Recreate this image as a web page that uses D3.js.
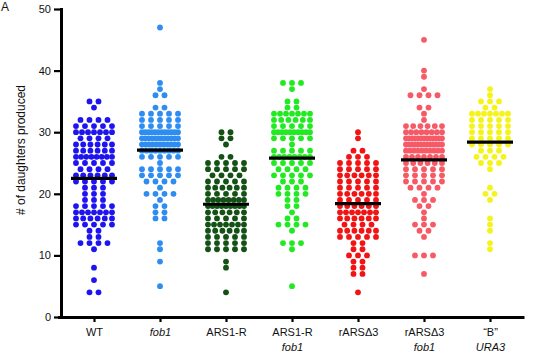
<!DOCTYPE html>
<html>
<head>
<meta charset="utf-8">
<script src="https://cdn.jsdelivr.net/npm/d3@7"></script>
<style>
  body { margin: 0; background: #fff; }
  text { font-family: "Liberation Sans", Arial, Helvetica, sans-serif; }
</style>
</head>
<body>
<svg id="chart" width="540" height="354"></svg>
<script>
// strains on the x axis
var groups = ["WT", "fob1", "ARS1-R", "ARS1-R fob1", "rARSΔ3", "rARSΔ3 fob1", "B URA3"];

// x labels, line by line: [text, italic]
var tickLines = [
  [["WT", false]],
  [["fob1", true]],
  [["ARS1-R", false]],
  [["ARS1-R", false], ["fob1", true]],
  [["rARSΔ3", false]],
  [["rARSΔ3", false], ["fob1", true]],
  [["\u201CB\u201D", false], ["URA3", true]]
];

var yTicks = [0, 10, 20, 30, 40, 50];

// daughters per mother cell
var wt = [35,35,34,32,32,32,32,31,31,31,31,31,30,30,30,30,30,30,30,29,29,29,29,
  28,28,28,28,28,28,27,27,27,27,27,27,26,26,26,26,26,26,26,26,25,25,25,25,25,
  24,24,24,24,23,23,23,23,23,23,22,22,22,22,22,21,21,21,20,20,20,19,19,19,
  18,18,18,18,18,17,17,17,17,17,17,17,16,16,16,16,16,16,15,15,15,15,15,
  14,14,13,13,12,12,12,12,11,8,6,4,4];

var fob1 = [47,38,37,36,36,34,34,33,33,33,33,33,32,32,32,32,32,31,31,31,31,31,
  30,30,30,30,30,30,30,30,30,30,30,30,29,29,29,29,29,29,29,29,29,29,29,29,
  28,28,28,28,28,28,28,28,28,28,28,27,27,27,27,27,27,27,27,27,26,26,26,26,26,
  25,24,24,24,24,24,23,23,23,23,23,22,22,22,22,21,20,20,20,20,19,18,18,17,17,
  16,16,12,11,9,5];

var ars1r = [30,30,29,29,28,26,26,25,25,25,25,25,24,24,24,24,24,23,23,23,23,
  22,22,22,22,22,21,21,21,21,21,21,20,20,20,20,20,19,19,19,19,19,19,19,19,
  18,18,18,18,18,18,18,18,18,17,17,17,17,17,17,16,16,16,16,16,
  15,15,15,15,15,15,15,14,14,14,14,14,14,13,13,13,13,13,12,12,12,12,12,
  11,11,11,11,11,9,8,4];

var ars1rFob1 = [38,38,38,37,35,35,34,34,33,33,33,33,33,33,33,32,32,32,32,32,32,
  31,31,31,31,31,30,30,30,30,30,30,30,30,30,30,29,29,29,29,29,28,
  27,27,27,27,27,26,26,26,26,26,26,26,26,25,25,25,25,25,24,24,24,24,
  23,23,23,23,23,22,22,22,21,21,21,21,20,20,20,20,19,19,18,18,17,16,16,
  15,15,15,15,14,12,12,12,11,5];

var rars = [30,29,27,27,26,26,26,25,25,25,25,25,24,24,24,24,24,23,23,23,23,23,23,
  22,22,22,22,22,21,21,21,21,21,20,20,20,20,20,20,19,19,19,19,19,
  18,18,18,18,18,18,17,17,17,17,17,17,17,16,16,16,16,16,16,15,15,15,15,
  14,14,14,14,14,14,13,13,13,13,13,12,12,11,11,10,10,10,9,9,8,8,7,7,4];

var rarsFob1 = [45,40,39,37,36,36,36,36,34,34,33,32,31,31,31,31,31,31,
  30,30,30,30,30,30,30,30,29,29,29,29,29,29,29,29,29,29,29,29,29,
  28,28,28,28,28,28,28,28,28,28,28,28,28,27,27,27,27,27,27,27,27,27,27,
  26,26,26,26,26,26,26,25,25,25,25,25,25,24,24,24,24,24,23,23,23,23,23,
  22,22,22,22,22,21,21,21,21,20,19,19,19,18,18,17,16,15,15,15,14,14,13,
  10,10,10,7];

var bUra3 = [37,36,35,35,35,34,34,33,33,33,33,33,33,33,32,32,32,32,32,
  31,31,31,31,31,30,30,30,30,30,29,29,29,29,29,28,28,28,28,28,
  27,27,27,26,26,26,26,25,25,25,24,21,20,20,19,16,15,14,12,11];

var series = [wt, fob1, ars1r, ars1rFob1, rars, rarsFob1, bUra3];

// mean bars as drawn in the figure
var means = [22.5, 27.1, 18.3, 25.8, 18.4, 25.5, 28.4];

var palette = ["#1e14f0", "#2f8df2", "#135214", "#22ea22", "#f21414", "#f65a66", "#f4f41c"];

var svg = d3.select("#chart"),
    margin = {top: 9, left: 61, bottom: 37, right: 17},
    width = +svg.attr("width"),
    height = +svg.attr("height");

var x = d3.scalePoint()
    .domain(groups)
    .range([margin.left, width - margin.right])
    .padding(0.5);

var y = d3.scaleLinear()
    .domain([0, 50])
    .range([height - margin.bottom, margin.top]);

// spread equal values side by side, squeezing wide rows into the column
function swarm(vals) {
    var pts = [];
    d3.groups(vals, v => v).forEach(function (g) {
        var n = g[1].length,
            step = n > 1 ? Math.min(9, 36 / (n - 1)) : 0;
        g[1].forEach(function (v, j) {
            pts.push({v: v, dx: (j - (n - 1) / 2) * step});
        });
    });
    return pts;
}

series.forEach(function (vals, i) {
    svg.append("g")
        .attr("fill", palette[i])
        .selectAll("circle")
        .data(swarm(vals))
        .join("circle")
        .attr("cx", d => x(groups[i]) + d.dx)
        .attr("cy", d => y(d.v))
        .attr("r", 2.9);
});

// mean lines
svg.append("g")
    .selectAll("line")
    .data(means)
    .join("line")
    .attr("x1", (d, i) => x(groups[i]) - 23)
    .attr("x2", (d, i) => x(groups[i]) + 23)
    .attr("y1", d => y(d))
    .attr("y2", d => y(d))
    .attr("stroke", "#000")
    .attr("stroke-width", 3.2);

// axes
var yAxis = svg.append("g")
    .attr("transform", `translate(${margin.left},0)`)
    .call(d3.axisLeft(y).tickValues(yTicks).tickSize(7).tickPadding(3).tickSizeOuter(0));
yAxis.selectAll("text").attr("font-size", 11).attr("font-family", null).attr("fill", "#111");

var xAxis = svg.append("g")
    .attr("transform", `translate(0,${height - margin.bottom})`)
    .call(d3.axisBottom(x).tickSize(5).tickSizeOuter(0).tickFormat(""));
xAxis.select(".domain").attr("d", `M${margin.left - 1.5},0.5H${width - margin.right}`);

svg.selectAll(".domain").attr("stroke-width", 3).attr("stroke-linecap", "square");
svg.selectAll(".tick line").attr("stroke-width", 2.2);

xAxis.selectAll(".tick").each(function (d, i) {
    var t = d3.select(this).append("text")
        .attr("fill", "#111")
        .attr("font-size", 11)
        .attr("font-family", null)
        .attr("text-anchor", "middle");
    tickLines[i].forEach(function (ln, k) {
        t.append("tspan")
            .attr("x", 0)
            .attr("y", 19 + k * 15)
            .attr("font-style", ln[1] ? "italic" : "normal")
            .text(ln[0]);
    });
});

svg.append("text")
    .attr("transform", "translate(25,150) rotate(-90)")
    .attr("text-anchor", "middle")
    .attr("font-size", 12)
    .attr("fill", "#111")
    .text("# of daughters produced");

// panel letter
svg.append("text")
    .attr("x", 1)
    .attr("y", 11)
    .attr("font-size", 12)
    .attr("fill", "#111")
    .text("A");
</script>
</body>
</html>
